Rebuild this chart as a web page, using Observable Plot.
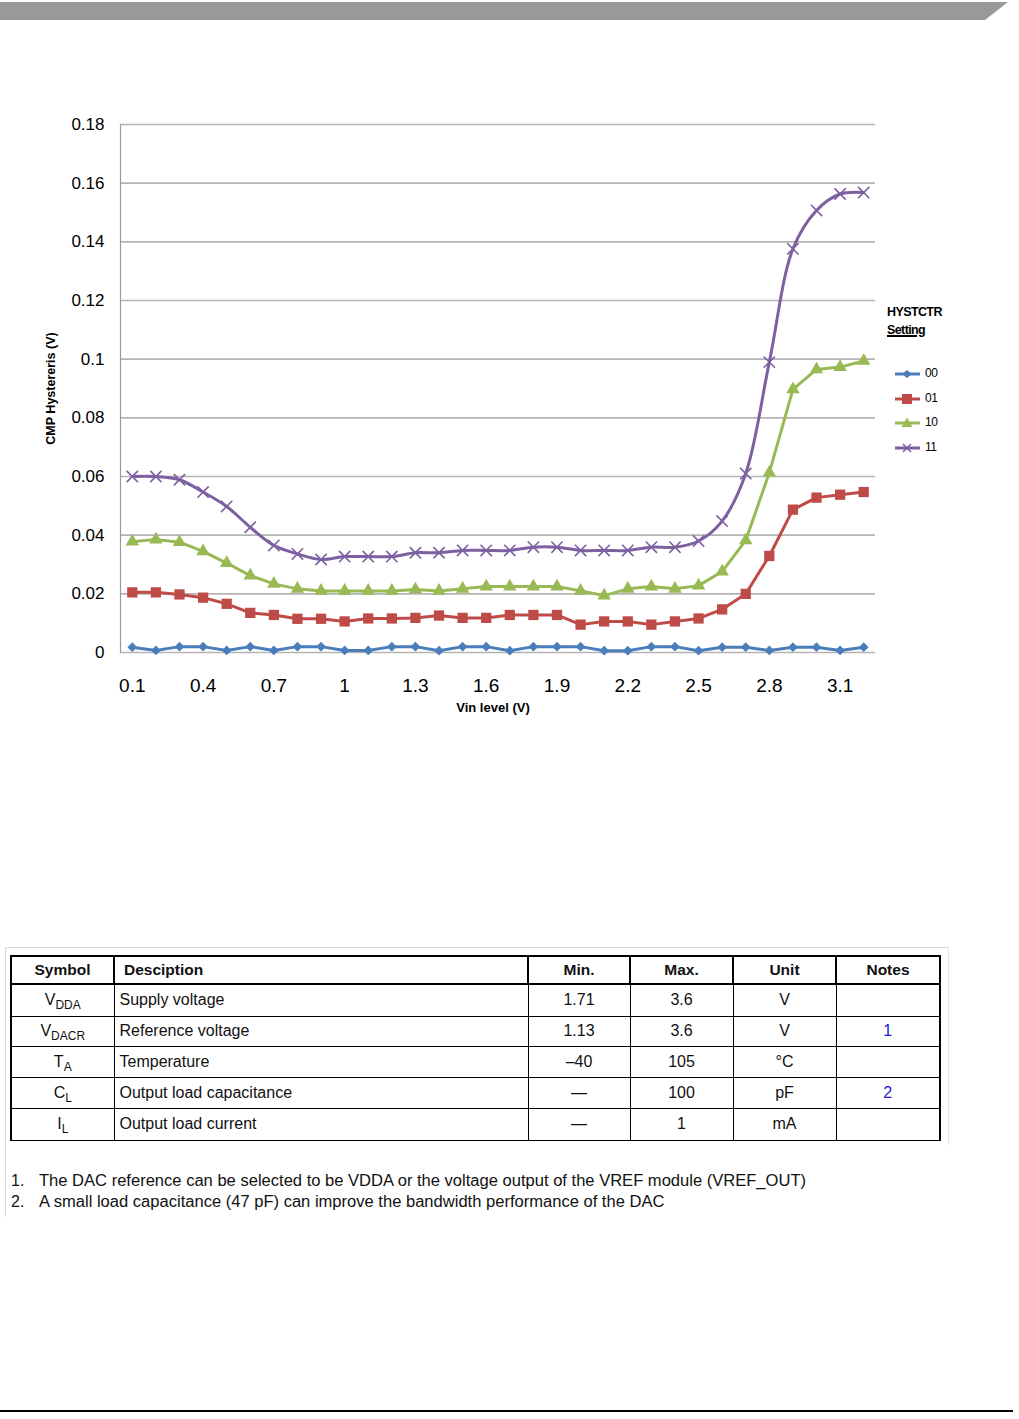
<!DOCTYPE html>
<html>
<head>
<meta charset="utf-8">
<script src="https://cdn.jsdelivr.net/npm/d3@7"></script>
<script src="https://cdn.jsdelivr.net/npm/@observablehq/plot@0.6"></script>
<style>
  html, body { margin: 0; padding: 0; background: #fff; }
  body { width: 1019px; height: 1419px; position: relative; overflow: hidden; font-family: "Liberation Sans", Arial, sans-serif; }
  #topbar { position: absolute; left: 0; top: 0; }
  #chart { position: absolute; left: 0; top: 0; }
  #legend { position: absolute; left: 887px; top: 303px; font-family: "Liberation Sans", Arial, sans-serif; color: #000; }
  #legend .hdr { font-weight: bold; font-size: 12.5px; line-height: 18px; letter-spacing: -0.6px; }
  #legend .hdr u { text-decoration-thickness: 1.5px; }
  #legend .item { position: absolute; left: 8px; width: 60px; height: 14px; font-size: 12px; }
  #legend .item svg { position: absolute; left: 0; top: 0; }
  #legend .item span { position: absolute; left: 30px; top: -1px; letter-spacing: -0.5px; }
  #frameL { position: absolute; left: 5px; top: 947px; width: 1px; height: 270px; background: #d9d9d9; }
  #frameT { position: absolute; left: 5px; top: 947px; width: 944px; height: 1px; background: #d9d9d9; }
  #frameR { position: absolute; left: 948px; top: 947px; width: 1px; height: 198px; background: #e6e6e6; }
  table { position: absolute; left: 10px; top: 955px; border-collapse: collapse; width: 929px; table-layout: fixed; font-size: 16px; color: #111; }
  th { font-weight: bold; border: 2.5px solid #000; height: 26px; padding: 0; font-size: 15.5px; }
  td { border: 1px solid #000; padding: 0; text-align: center; }
  tr.r td:first-child { border-left: 2px solid #000; }
  tr.r td:last-child { border-right: 2px solid #000; }
  tr.last td { border-bottom: 1.5px solid #000; }
  td.desc { text-align: left; padding-left: 5px; }
  th.desc { text-align: left; padding-left: 9px; }
  sub { font-size: 12px; vertical-align: -4px; line-height: 0; }
  .note { color: #2020d0; }
  #notes { position: absolute; left: 11px; top: 1171px; font-size: 16px; line-height: 20.5px; color: #111; }
  #notes div { position: relative; white-space: nowrap; }
  #notes .n { display: inline-block; width: 28px; }
  #notes .t { display: inline-block; transform-origin: left center; }
  #bottomline { position: absolute; left: 0; top: 1410px; width: 1013px; height: 2px; background: #000; }
</style>
</head>
<body>
<svg id="topbar" width="1019" height="24"><polygon points="0,2 1008,2 985,20 0,20" fill="#999999"/></svg>
<div id="chart"></div>
<div id="legend"></div>
<div id="frameL"></div><div id="frameT"></div><div id="frameR"></div>
<table>
  <colgroup><col style="width:103px"><col style="width:414px"><col style="width:102px"><col style="width:103px"><col style="width:103px"><col style="width:104px"></colgroup>
  <thead><tr><th>Symbol</th><th class="desc">Desciption</th><th>Min.</th><th>Max.</th><th>Unit</th><th>Notes</th></tr></thead>
  <tbody id="tbody"></tbody>
</table>
<div id="notes"></div>
<div id="bottomline"></div>
<script>
// ---- Chart data ----
const vin = [0.1, 0.2, 0.3, 0.4, 0.5, 0.6, 0.7, 0.8, 0.9, 1, 1.1, 1.2, 1.3, 1.4, 1.5, 1.6,
             1.7, 1.8, 1.9, 2, 2.1, 2.2, 2.3, 2.4, 2.5, 2.6, 2.7, 2.8, 2.9, 3, 3.1, 3.2];
const hyst00 = [0.0018, 0.0007, 0.002, 0.002, 0.0007, 0.002, 0.0007, 0.002, 0.002, 0.0007, 0.0007, 0.002,
                0.002, 0.0006, 0.002, 0.002, 0.0006, 0.002, 0.002, 0.002, 0.0006, 0.0006, 0.002, 0.002, 0.0006,
                0.0018, 0.0018, 0.0007, 0.0018, 0.0018, 0.0007, 0.0018];
const hyst01 = [0.0205, 0.0205, 0.0198, 0.0187, 0.0166, 0.0135, 0.0128, 0.0115, 0.0115, 0.0106, 0.0116, 0.0116,
                0.0118, 0.0126, 0.0118, 0.0118, 0.0128, 0.0128, 0.0128, 0.0095, 0.0106, 0.0106, 0.0095, 0.0106, 0.0116,
                0.0147, 0.0200, 0.0329, 0.0487, 0.0528, 0.0538, 0.0547];
const hyst10 = [0.0378, 0.0385, 0.0376, 0.0345, 0.0305, 0.0262, 0.0234, 0.0217, 0.0210, 0.0210, 0.0210, 0.0210,
                0.0215, 0.0210, 0.0217, 0.0225, 0.0225, 0.0225, 0.0225, 0.0210, 0.0194, 0.0217, 0.0225, 0.0217, 0.0228,
                0.0276, 0.0382, 0.0613, 0.0897, 0.0965, 0.0973, 0.0994];
const hyst11 = [0.0600, 0.0600, 0.0589, 0.0547, 0.0498, 0.0427, 0.0365, 0.0336, 0.0317, 0.0327, 0.0327, 0.0327,
                0.0340, 0.0340, 0.0348, 0.0348, 0.0348, 0.0359, 0.0359, 0.0348, 0.0348, 0.0348, 0.0359, 0.0359, 0.0380,
                0.0448, 0.0610, 0.0990, 0.1376, 0.1507, 0.1563, 0.1568];
const seriesNames = ["00", "01", "10", "11"];
const seriesColors = ["#4A7EBB", "#BE4B48", "#98B954", "#7D60A0"];
const seriesSymbols = ["diamond2", "square", "triangle", "times"];
const xTicks = [0.1, 0.4, 0.7, 1, 1.3, 1.6, 1.9, 2.2, 2.5, 2.8, 3.1];
const yTicks = [0, 0.02, 0.04, 0.06, 0.08, 0.1, 0.12, 0.14, 0.16, 0.18];
const yTitle = "CMP Hystereris (V)";
const xTitle = "Vin level (V)";
const legendTitle = "HYSTCTR";
const legendSubtitle = "Setting";

// ---- Table data ----
const tblSymbols = [["V", "DDA"], ["V", "DACR"], ["T", "A"], ["C", "L"], ["I", "L"]];
const tblDesc = ["Supply voltage", "Reference voltage", "Temperature", "Output load capacitance", "Output load current"];
const tblMin = ["1.71", "1.13", "\u201340", "\u2014", "\u2014"];
const tblMax = ["3.6", "3.6", "105", "100", "1"];
const tblUnit = ["V", "V", "\u00B0C", "pF", "mA"];
const tblNotes = ["", "1", "", "2", ""];
const footnotes = [
  "The DAC reference can be selected to be VDDA or the voltage output of the VREF module (VREF_OUT)",
  "A small load capacitance (47 pF) can improve the bandwidth performance of the DAC"
];

const allSeries = [hyst00, hyst01, hyst10, hyst11];
const rows = [];
allSeries.forEach((vals, s) => vals.forEach((v, i) => rows.push({vin: vin[i], h: v, s: seriesNames[s]})));

const marks = [
  Plot.ruleY(yTicks, {stroke: "#b4b4b4", strokeWidth: 1.6}),
  Plot.frame({anchor: "left", stroke: "#9a9a9a", strokeWidth: 1.2}),
  Plot.axisX({ticks: xTicks, tickSize: 0, tickPadding: 26, fontSize: 19, label: null, tickFormat: d => String(d)}),
  Plot.axisY({ticks: yTicks, tickSize: 0, tickPadding: 16, fontSize: 17, label: null, tickFormat: d => String(+d.toFixed(2))}),
  Plot.text([yTitle], {frameAnchor: "left", dx: -70, rotate: -90, textAnchor: "middle", fontSize: 12.5, fontWeight: "bold", fill: "#000"}),
  Plot.text([xTitle], {frameAnchor: "bottom", dx: -5, dy: 59, fontSize: 13, fontWeight: "bold", fill: "#000"})
];
seriesNames.forEach((name, s) => {
  const data = rows.filter(d => d.s === name);
  marks.push(Plot.line(data, {x: "vin", y: "h", stroke: seriesColors[s], strokeWidth: 3,
    curve: name === "11" ? "catmull-rom" : "linear"}));
  const isTimes = seriesSymbols[s] === "times";
  marks.push(Plot.dot(data, {x: "vin", y: "h", symbol: () => seriesSymbols[s],
    r: [4.4, 5.8, 5, 5.2][s],
    fill: isTimes ? "none" : seriesColors[s],
    stroke: seriesColors[s], strokeWidth: isTimes ? 1.6 : 0}));
});

const chart = Plot.plot({
  width: 1019, height: 740,
  marginLeft: 120, marginRight: 144, marginTop: 124, marginBottom: 88,
  style: {fontFamily: "'Liberation Sans', Arial, sans-serif", color: "#000", background: "transparent"},
  x: {type: "point", domain: vin, padding: 0.5, round: false},
  y: {domain: [0, 0.18]},
  symbol: {type: "identity"},
  marks
});
document.getElementById("chart").appendChild(chart);

// ---- Legend ----
const leg = document.getElementById("legend");
leg.innerHTML = `<div class="hdr">${legendTitle}</div><div class="hdr"><u>${legendSubtitle}</u></div>`;
const legY = [71, 96, 120, 145];
const symPaths = [
  (c) => `<path d="M12,3 L17,7 L12,11 L7,7 Z" fill="${c}"/>`,
  (c) => `<rect x="7" y="2" width="10" height="10" fill="${c}"/>`,
  (c) => `<path d="M12,1.5 L17.5,11 L6.5,11 Z" fill="${c}"/>`,
  (c) => `<path d="M8,3 L16,11 M16,3 L8,11" stroke="${c}" stroke-width="1.5"/>`
];
seriesNames.forEach((name, s) => {
  const it = document.createElement("div");
  it.className = "item";
  it.style.top = (legY[s] - 7) + "px";
  it.innerHTML = `<svg width="26" height="14"><line x1="0" y1="7" x2="25" y2="7" stroke="${seriesColors[s]}" stroke-width="3"/>${symPaths[s](seriesColors[s])}</svg><span>${name}</span>`;
  leg.appendChild(it);
});

// ---- Table ----
const tb = document.getElementById("tbody");
const rowH = [32, 30, 31, 31, 32];
tblDesc.forEach((d, i) => {
  const tr = document.createElement("tr");
  tr.className = "r" + (i === tblDesc.length - 1 ? " last" : "");
  tr.style.height = rowH[i] + "px";
  tr.innerHTML = `<td>${tblSymbols[i][0]}<sub>${tblSymbols[i][1]}</sub></td><td class="desc">${d}</td><td>${tblMin[i]}</td><td>${tblMax[i]}</td><td>${tblUnit[i]}</td><td class="note">${tblNotes[i]}</td>`;
  tb.appendChild(tr);
});

// ---- Footnotes ----
const notes = document.getElementById("notes");
footnotes.forEach((t, i) => {
  const div = document.createElement("div");
  div.innerHTML = `<span class="n">${i + 1}.</span><span class="t">${t}</span>`;
  notes.appendChild(div);
});
const t0 = notes.querySelector(".t");
const w0 = t0.getBoundingClientRect().width;
const sx = (806 - 39) / w0;
notes.querySelectorAll(".t").forEach(el => el.style.transform = `scaleX(${sx})`);
</script>
</body>
</html>
